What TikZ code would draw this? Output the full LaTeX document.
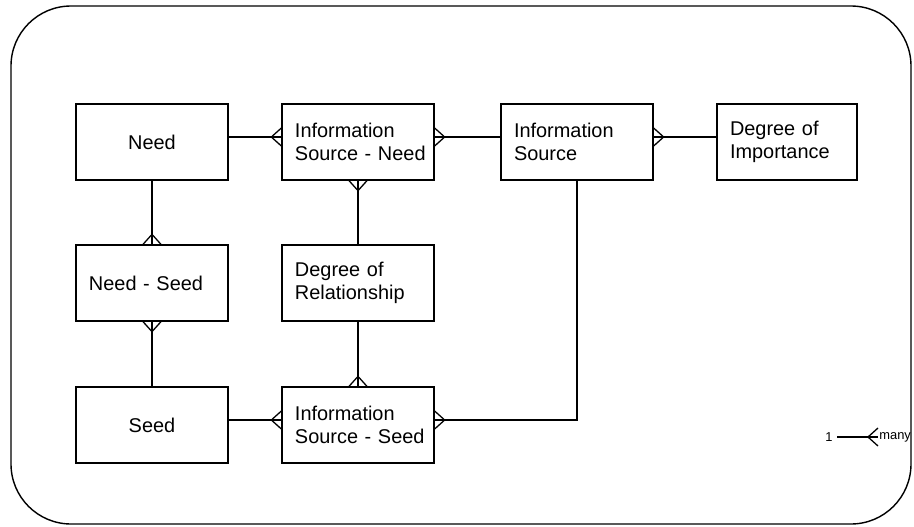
\documentclass[tikz,border=0pt]{standalone}
\usepackage{fontspec}
\setmainfont{Liberation Sans}
\tikzset{
  entity/.style={draw, line width=1.1pt, minimum width=4.56cm, minimum height=2.28cm,
    text width=3.78cm, inner xsep=0.39cm, align=left, font=\fontsize{17}{19.5}\selectfont},
  link/.style={line width=1.1pt},
  crowfoot/.pic={\draw[link] (0,9) -- (-10,0) -- (0,-9);}
}
\begin{document}
\begin{tikzpicture}[x=0.03cm,y=-0.03cm]
\useasboundingbox (0,0) rectangle (914,527);
\draw[line width=1.2pt, rounded corners=1.8cm] (11,6) rectangle (911,524);
% entities
\node[entity, align=center] (need) at (152,142) {Need\hspace*{0.48cm}};
\node[entity] (isneed) at (358,142) {Information\\\mbox{Source - Need}};
\node[entity] (infosrc) at (577,142) {Information\\Source};
\node[entity, minimum width=4.2cm, text width=3.42cm] (importance) at (787,142) {Degree of\\Importance};
\node[entity] (needseed) at (152,283) {Need - Seed};
\node[entity] (degrel) at (358,283) {Degree of\\Relationship};
\node[entity, align=center] (seed) at (152,425) {Seed\hspace*{0.48cm}};
\node[entity] (isseed) at (358,425) {Information\\\mbox{Source - Seed}};
% relationships
\draw[link] ([yshift=0.15cm]need.east) -- ([yshift=0.15cm]isneed.west);
\pic at ([yshift=0.15cm]isneed.west) {crowfoot};
\draw[link] ([yshift=0.15cm]isneed.east) -- ([yshift=0.15cm]infosrc.west);
\pic[rotate=180] at ([yshift=0.15cm]isneed.east) {crowfoot};
\draw[link] ([yshift=0.15cm]infosrc.east) -- ([yshift=0.15cm]importance.west);
\pic[rotate=180] at ([yshift=0.15cm]infosrc.east) {crowfoot};
\draw[link] (need.south) -- (needseed.north);
\pic[rotate=-90] at (needseed.north) {crowfoot};
\draw[link] (needseed.south) -- (seed.north);
\pic[rotate=90] at (needseed.south) {crowfoot};
\draw[link] (isneed.south) -- (degrel.north);
\pic[rotate=90] at (isneed.south) {crowfoot};
\draw[link] (degrel.south) -- (isseed.north);
\pic[rotate=-90] at (isseed.north) {crowfoot};
\draw[link] ([yshift=0.15cm]seed.east) -- ([yshift=0.15cm]isseed.west);
\pic at ([yshift=0.15cm]isseed.west) {crowfoot};
\draw[link] (infosrc.south) |- ([yshift=0.15cm]isseed.east);
\pic[rotate=180] at ([yshift=0.15cm]isseed.east) {crowfoot};
% legend
\node[font=\fontsize{11}{13}\selectfont, inner sep=1pt] (one) at (829,437) {1};
\node[font=\fontsize{11}{13}\selectfont, inner sep=1pt, anchor=west] (many) at (878,437) {many};
\draw[link] ([xshift=-0.3cm]one.east) ++(0.4cm,0) -- (many.west);
\pic at (many.west) {crowfoot};
\end{tikzpicture}
\end{document}
